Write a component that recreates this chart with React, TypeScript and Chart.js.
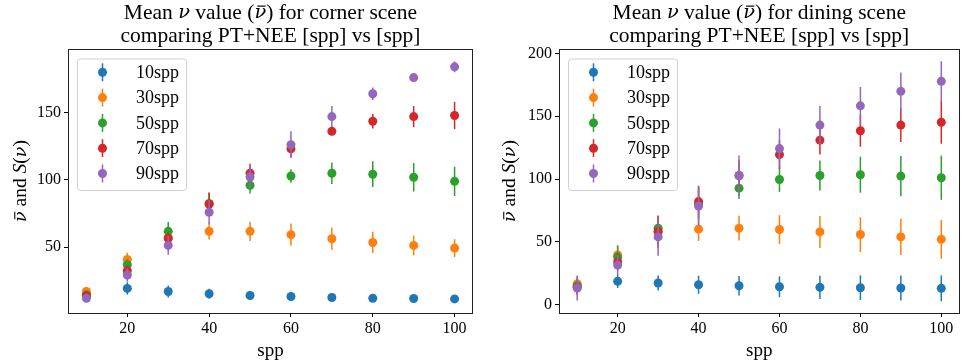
import React, { useEffect, useRef } from "react";
import { Chart, registerables } from "chart.js";

Chart.register(...registerables);

// ---------- data ----------
const sppValues = [10, 20, 30, 40, 50, 60, 70, 80, 90, 100];
const seriesLabels = ["10spp", "30spp", "50spp", "70spp", "90spp"];
const seriesColors = ["#1f77b4", "#ff7f0e", "#2ca02c", "#d62728", "#9467bd"];
const xTicks = [20, 40, 60, 80, 100];
const cornerYTicks = [50, 100, 150];
const diningYTicks = [0, 50, 100, 150, 200];

// corner scene
const corner10 = [14.5, 19.3, 17.0, 15.3, 14.0, 13.3, 12.5, 12.0, 11.8, 11.5];
const corner10Err = [2.5, 4.6, 4.4, 3.7, 2.2, 1.8, 1.5, 1.2, 1.0, 1.0];
const corner30 = [17.0, 40.8, 57.0, 61.8, 61.8, 59.3, 56.3, 53.5, 51.3, 49.3];
const corner30Err = [3.5, 5.0, 5.0, 6.0, 7.2, 8.3, 8.3, 7.9, 7.4, 6.6];
const corner50 = [14.5, 37.0, 61.8, 82.5, 96.0, 103.0, 105.0, 104.3, 102.0, 99.0];
const corner50Err = [3.0, 4.0, 7.0, 8.0, 6.0, 5.0, 8.0, 9.6, 10.6, 10.9];
const corner70 = [13.8, 32.5, 56.5, 82.0, 105.0, 123.2, 136.2, 143.7, 147.2, 148.0];
const corner70Err = [2.0, 4.0, 5.0, 8.7, 7.0, 6.0, 2.0, 5.4, 7.9, 10.2];
const corner90 = [12.0, 29.3, 51.3, 76.0, 102.2, 126.2, 147.2, 164.2, 176.2, 184.2];
const corner90Err = [3.0, 5.0, 7.0, 9.0, 8.0, 10.0, 7.8, 4.7, 2.0, 4.0];

// dining scene
const dining10 = [15.0, 18.7, 17.4, 16.0, 15.2, 14.4, 13.9, 13.6, 13.4, 13.1];
const dining10Err = [6.0, 5.3, 6.0, 7.2, 7.8, 8.3, 9.2, 9.8, 10.0, 10.3];
const dining30 = [16.8, 39.6, 58.0, 60.2, 61.0, 59.9, 58.0, 55.9, 54.0, 52.1];
const dining30Err = [6.0, 8.0, 10.0, 9.4, 9.8, 11.4, 12.7, 13.8, 14.4, 15.4];
const dining50 = [15.2, 38.0, 61.0, 80.5, 92.8, 99.7, 102.9, 103.5, 102.4, 101.1];
const dining50Err = [6.0, 8.7, 9.0, 12.0, 8.7, 9.8, 12.0, 14.3, 16.0, 17.6];
const dining70 = [13.9, 34.2, 58.3, 82.1, 102.9, 119.5, 131.0, 138.5, 143.0, 145.2];
const dining70Err = [6.0, 7.0, 12.7, 12.6, 12.0, 11.4, 11.4, 12.7, 13.4, 17.0];
const dining90 = [13.4, 31.6, 54.0, 78.6, 102.7, 124.3, 143.0, 158.3, 169.8, 177.8];
const dining90Err = [10.0, 8.0, 15.0, 15.8, 16.0, 16.0, 15.2, 15.0, 15.0, 16.0];

const cornerSeries = [corner10, corner30, corner50, corner70, corner90];
const cornerErrors = [corner10Err, corner30Err, corner50Err, corner70Err, corner90Err];
const diningSeries = [dining10, dining30, dining50, dining70, dining90];
const diningErrors = [dining10Err, dining30Err, dining50Err, dining70Err, dining90Err];

const FONT = '"Liberation Serif", "DejaVu Serif", serif';
const MATH_FONT = '"DejaVu Serif", serif';

type Run = { t: string; it?: boolean; bar?: boolean; math?: boolean };

function setRunFont(ctx: CanvasRenderingContext2D, r: Run, size: number) {
  const fam = r.math ? MATH_FONT : FONT;
  const sz = r.math ? size * 0.9 : size;
  ctx.font = `${r.it ? "italic " : ""}${sz}px ${fam}`;
}

function runsWidth(ctx: CanvasRenderingContext2D, runs: Run[], size: number) {
  let w = 0;
  for (const r of runs) {
    setRunFont(ctx, r, size);
    w += ctx.measureText(r.t).width;
  }
  return w;
}

function drawRuns(ctx: CanvasRenderingContext2D, runs: Run[], cx: number, cy: number, size: number) {
  const total = runsWidth(ctx, runs, size);
  let x = cx - total / 2;
  ctx.textAlign = "left";
  ctx.textBaseline = "middle";
  for (const r of runs) {
    setRunFont(ctx, r, size);
    const w = ctx.measureText(r.t).width;
    ctx.fillText(r.t, x, cy);
    if (r.bar) {
      ctx.save();
      ctx.strokeStyle = ctx.fillStyle as string;
      ctx.lineWidth = Math.max(1, size * 0.055);
      const by = cy - size * 0.32;
      ctx.beginPath();
      ctx.moveTo(x + w * 0.25, by);
      ctx.lineTo(x + w * 0.95, by);
      ctx.stroke();
      ctx.restore();
    }
    x += w;
  }
}

const errorBarPlugin = {
  id: "errorBarsCustom",
  beforeDatasetDraw(chart: any, args: any) {
    const ds = chart.data.datasets[args.index];
    const errs: number[] = ds.errors;
    if (!errs) return;
    const { ctx } = chart;
    const xs = chart.scales.x;
    const ys = chart.scales.y;
    ctx.save();
    ctx.strokeStyle = ds.backgroundColor;
    ctx.lineWidth = 1.5;
    ds.data.forEach((p: any, i: number) => {
      const px = xs.getPixelForValue(p.x);
      const y1 = ys.getPixelForValue(p.y - errs[i]);
      const y2 = ys.getPixelForValue(p.y + errs[i]);
      ctx.beginPath();
      ctx.moveTo(px, y1);
      ctx.lineTo(px, y2);
      ctx.stroke();
    });
    ctx.restore();
  },
};

const decorPlugin = {
  id: "decorCustom",
  afterDraw(chart: any) {
    const { ctx, chartArea } = chart;
    const cfg = chart.options.plugins.decorCustom;
    const { left, right, top, bottom } = chartArea;
    ctx.save();
    // frame
    ctx.strokeStyle = "#222";
    ctx.lineWidth = 1;
    ctx.strokeRect(Math.round(left) + 0.5, Math.round(top) + 0.5, Math.round(right - left) - 1, Math.round(bottom - top));
    ctx.fillStyle = "#000";
    const cx = (left + right) / 2;
    // title
    drawRuns(
      ctx,
      [
        { t: "Mean " },
        { t: "ν", it: true, math: true },
        { t: " value (" },
        { t: "ν", it: true, math: true, bar: true },
        { t: `) for ${cfg.scene} scene` },
      ],
      cx,
      13,
      21.5
    );
    drawRuns(ctx, [{ t: "comparing PT+NEE [spp] vs [spp]" }], cx, 36, 21.5);
    // x label
    drawRuns(ctx, [{ t: "spp" }], cx, 351, 19);
    // y label
    ctx.save();
    ctx.translate(cfg.yLabelX, (top + bottom) / 2);
    ctx.rotate(-Math.PI / 2);
    drawRuns(
      ctx,
      [
        { t: "ν", it: true, math: true, bar: true },
        { t: " and " },
        { t: "S", it: true },
        { t: "(" },
        { t: "ν", it: true, math: true },
        { t: ")" },
      ],
      0,
      0,
      19.5
    );
    ctx.restore();
    // legend
    const bx = left + 9.5;
    const by = top + 10;
    const bw = 109;
    const bh = 131.5;
    ctx.beginPath();
    ctx.roundRect(bx, by, bw, bh, 3);
    ctx.fillStyle = "rgba(255,255,255,0.8)";
    ctx.fill();
    ctx.strokeStyle = "#d0d0d0";
    ctx.lineWidth = 1;
    ctx.stroke();
    seriesLabels.forEach((lab, i) => {
      const ey = by + 13.3 + i * 25.3;
      const mx = bx + 25;
      ctx.strokeStyle = seriesColors[i];
      ctx.lineWidth = 1.5;
      ctx.beginPath();
      ctx.moveTo(mx, ey - 9);
      ctx.lineTo(mx, ey + 9);
      ctx.stroke();
      ctx.fillStyle = seriesColors[i];
      ctx.beginPath();
      ctx.arc(mx, ey, 4.5, 0, Math.PI * 2);
      ctx.fill();
      ctx.fillStyle = "#000";
      ctx.font = `18px ${FONT}`;
      ctx.textAlign = "left";
      ctx.textBaseline = "middle";
      ctx.fillText(lab, bx + 58.5, ey + 1);
    });
    ctx.restore();
  },
};

function makeConfig(
  series: number[][],
  errors: number[][],
  yMin: number,
  yMax: number,
  yTicks: number[],
  yAxisWidth: number,
  rightPad: number,
  scene: string,
  yLabelX: number
): any {
  const datasets = series.map((vals, si) => ({
    label: seriesLabels[si],
    data: vals.map((v, i) => ({ x: sppValues[i], y: v })),
    errors: errors[si],
    backgroundColor: seriesColors[si],
    borderColor: seriesColors[si],
    pointRadius: 4.5,
    pointBorderWidth: 0,
    pointHoverRadius: 4.5,
    showLine: false,
    order: series.length - si,
  }));
  const tickFont = { family: FONT, size: 16 };
  return {
    type: "scatter",
    data: { datasets },
    options: {
      responsive: false,
      animation: false,
      devicePixelRatio: 1,
      layout: { padding: { top: 49, right: rightPad, left: 0, bottom: 0 } },
      plugins: {
        legend: { display: false },
        title: { display: false },
        tooltip: { enabled: false },
        decorCustom: { scene, yLabelX },
      },
      scales: {
        x: {
          type: "linear",
          min: 5.5,
          max: 104.5,
          afterBuildTicks: (axis: any) => {
            axis.ticks = xTicks.map((v) => ({ value: v }));
          },
          afterFit: (axis: any) => {
            axis.height = 51;
          },
          ticks: { font: tickFont, color: "#000", padding: 2, maxRotation: 0 },
          grid: { display: true, drawOnChartArea: false, drawTicks: true, tickLength: 4, color: "#000" },
          border: { display: false },
        },
        y: {
          type: "linear",
          min: yMin,
          max: yMax,
          afterBuildTicks: (axis: any) => {
            axis.ticks = yTicks.map((v) => ({ value: v }));
          },
          afterFit: (axis: any) => {
            axis.width = yAxisWidth;
          },
          ticks: { font: tickFont, color: "#000", padding: 3 },
          grid: { display: true, drawOnChartArea: false, drawTicks: true, tickLength: 4, color: "#000" },
          border: { display: false },
        },
      },
    },
    plugins: [errorBarPlugin, decorPlugin],
  };
}

function ChartCanvas({ config, left }: { config: any; left: number }) {
  const ref = useRef<HTMLCanvasElement | null>(null);
  useEffect(() => {
    if (!ref.current) return;
    const chart = new Chart(ref.current, config);
    return () => chart.destroy();
  }, [config]);
  return (
    <canvas
      ref={ref}
      width={482}
      height={364}
      style={{ position: "absolute", left, top: 0, width: 482, height: 364 }}
    />
  );
}

const cornerConfig = makeConfig(cornerSeries, cornerErrors, 1, 197.5, cornerYTicks, 68, 9, "corner", 21);
const diningConfig = makeConfig(diningSeries, diningErrors, -6.5, 203.5, diningYTicks, 77, 1, "dining", 28);

export default function App() {
  return (
    <div style={{ position: "fixed", left: 0, top: 0, width: 964, height: 364, background: "#fff", overflow: "hidden" }}>
      <ChartCanvas config={cornerConfig} left={0} />
      <ChartCanvas config={diningConfig} left={482} />
    </div>
  );
}
